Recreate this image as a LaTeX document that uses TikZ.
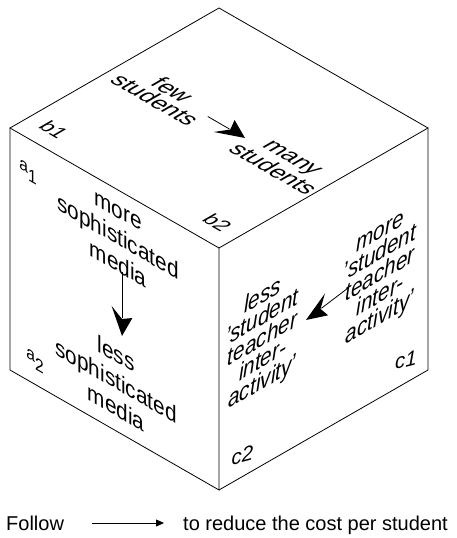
\documentclass[tikz,border=0pt]{standalone}
\usepackage{fontspec}
\setmainfont{Liberation Sans}
\usetikzlibrary{arrows.meta}
\newcommand\arrowhd{\fill (0,0) -- (-24,12) -- (-17,0) -- (-24,-12) -- cycle;}
\begin{document}
\begin{tikzpicture}[x=1pt,y=1pt,
  edge/.style={line width=0.8pt, line join=miter},
  shaft/.style={line width=0.8pt},
  facetxt/.style={transform shape, align=center, inner sep=0pt},
  lefttxt/.style={facetxt, font=\fontsize{24}{27}\selectfont},
  toptxt/.style={facetxt, font=\fontsize{24}{20}\selectfont},
  righttxt/.style={facetxt, font=\fontsize{24}{21.5}\selectfont\itshape},
  lbl/.style={transform shape, inner sep=0pt, font=\fontsize{18}{20}\selectfont},
  blbl/.style={transform shape, inner sep=0pt, font=\fontsize{21}{22}\selectfont},
  clbl/.style={transform shape, inner sep=0pt, font=\fontsize{21}{22}\selectfont\itshape},
  legend/.style={inner sep=0pt, anchor=base west, font=\fontsize{20}{24}\selectfont}
]
\useasboundingbox (0,0) rectangle (457,538);
% cube corners
\coordinate (T) at (219,530);
\coordinate (L) at (10,410);
\coordinate (R) at (428,410);
\coordinate (C) at (219,290);
\coordinate (BL) at (10,168);
\coordinate (BR) at (428,168);
\coordinate (B) at (219,48);
\draw[edge] (L) -- (T) -- (R) -- (C) -- cycle;
\draw[edge] (L) -- (BL) -- (B) -- (C);
\draw[edge] (B) -- (BR) -- (R);

% top face
\begin{scope}[cm={0.866,-0.5,0.866,0.5,(164,443)}]
  \node[toptxt] (few) at (0,0) {few\\students};
\end{scope}
\begin{scope}[cm={0.866,-0.5,0.866,0.5,(282,374)}]
  \node[toptxt] (many) at (0,0) {many\\students};
\end{scope}
\begin{scope}[cm={0.866,-0.5,0.866,0.5,(245,400)}]
  \coordinate (ta1) at (-43,0);
  \coordinate (ta2) at (-18,0);
  \draw[shaft] (ta1) -- (ta2);
  \arrowhd
\end{scope}
\begin{scope}[cm={0.866,-0.5,0.866,0.5,(54,408)}]
  \node[blbl] (b1) at (0,0) {b1};
\end{scope}
\begin{scope}[cm={0.866,-0.5,0.866,0.5,(217.5,315.5)}]
  \node[blbl] (b2) at (0,0) {b2};
\end{scope}

% left face
\begin{scope}[cm={0.866,-0.5,0,1,(118,299.5)}]
  \node[lefttxt] (moremedia) at (0,0) {more\\sophisticated\\media};
\end{scope}
\begin{scope}[cm={0.866,-0.5,0,1,(116,157.5)}]
  \node[lefttxt] (lessmedia) at (0,0) {less\\sophisticated\\media};
\end{scope}
\begin{scope}[cm={0.866,-0.5,0,1,(122,202)}, rotate=-90]
  \coordinate (la1) at (-64,0);
  \coordinate (la2) at (-18,0);
  \draw[shaft] (la1) -- (la2);
  \arrowhd
\end{scope}
\begin{scope}[cm={0.866,-0.5,0,1,(28,366)}]
  \node[lbl] (a1) at (0,0) {a\raisebox{-7pt}{1}};
\end{scope}
\begin{scope}[cm={0.866,-0.5,0,1,(35,177)}]
  \node[lbl] (a2) at (0,0) {a\raisebox{-7pt}{2}};
\end{scope}

% right face
\begin{scope}[cm={0.866,0.5,0,1,(380,260.5)}]
  \node[righttxt] (moreint) at (0,0) {more\\'student\\teacher\\inter-\\activity'};
\end{scope}
\begin{scope}[cm={0.866,0.5,0,1,(262.5,198)}]
  \node[righttxt] (lessint) at (0,0) {less\\'student\\teacher\\inter-\\activity'};
\end{scope}
\begin{scope}[cm={0.866,0.5,0,1,(306,218)}, rotate=189]
  \coordinate (ra1) at (-49,0);
  \coordinate (ra2) at (-18,0);
  \draw[shaft] (ra1) -- (ra2);
  \arrowhd
\end{scope}
\begin{scope}[cm={0.97,0.25,0,1,(406,178)}]
  \node[clbl] (c1) at (0,0) {c1};
\end{scope}
\begin{scope}[cm={0.97,0.25,0,1,(242.5,83)}]
  \node[clbl] (c2) at (0,0) {c2};
\end{scope}

% legend
\node[legend] (follow) at (6,8) {Follow};
\node[legend] (reduce) at (183,8) {to reduce the cost per student};
\coordinate (fa1) at (92,15);
\coordinate (fa2) at (164,15);
\draw[shaft, -{Triangle[length=8pt,width=7pt]}] (fa1) -- (fa2);
\end{tikzpicture}
\end{document}
